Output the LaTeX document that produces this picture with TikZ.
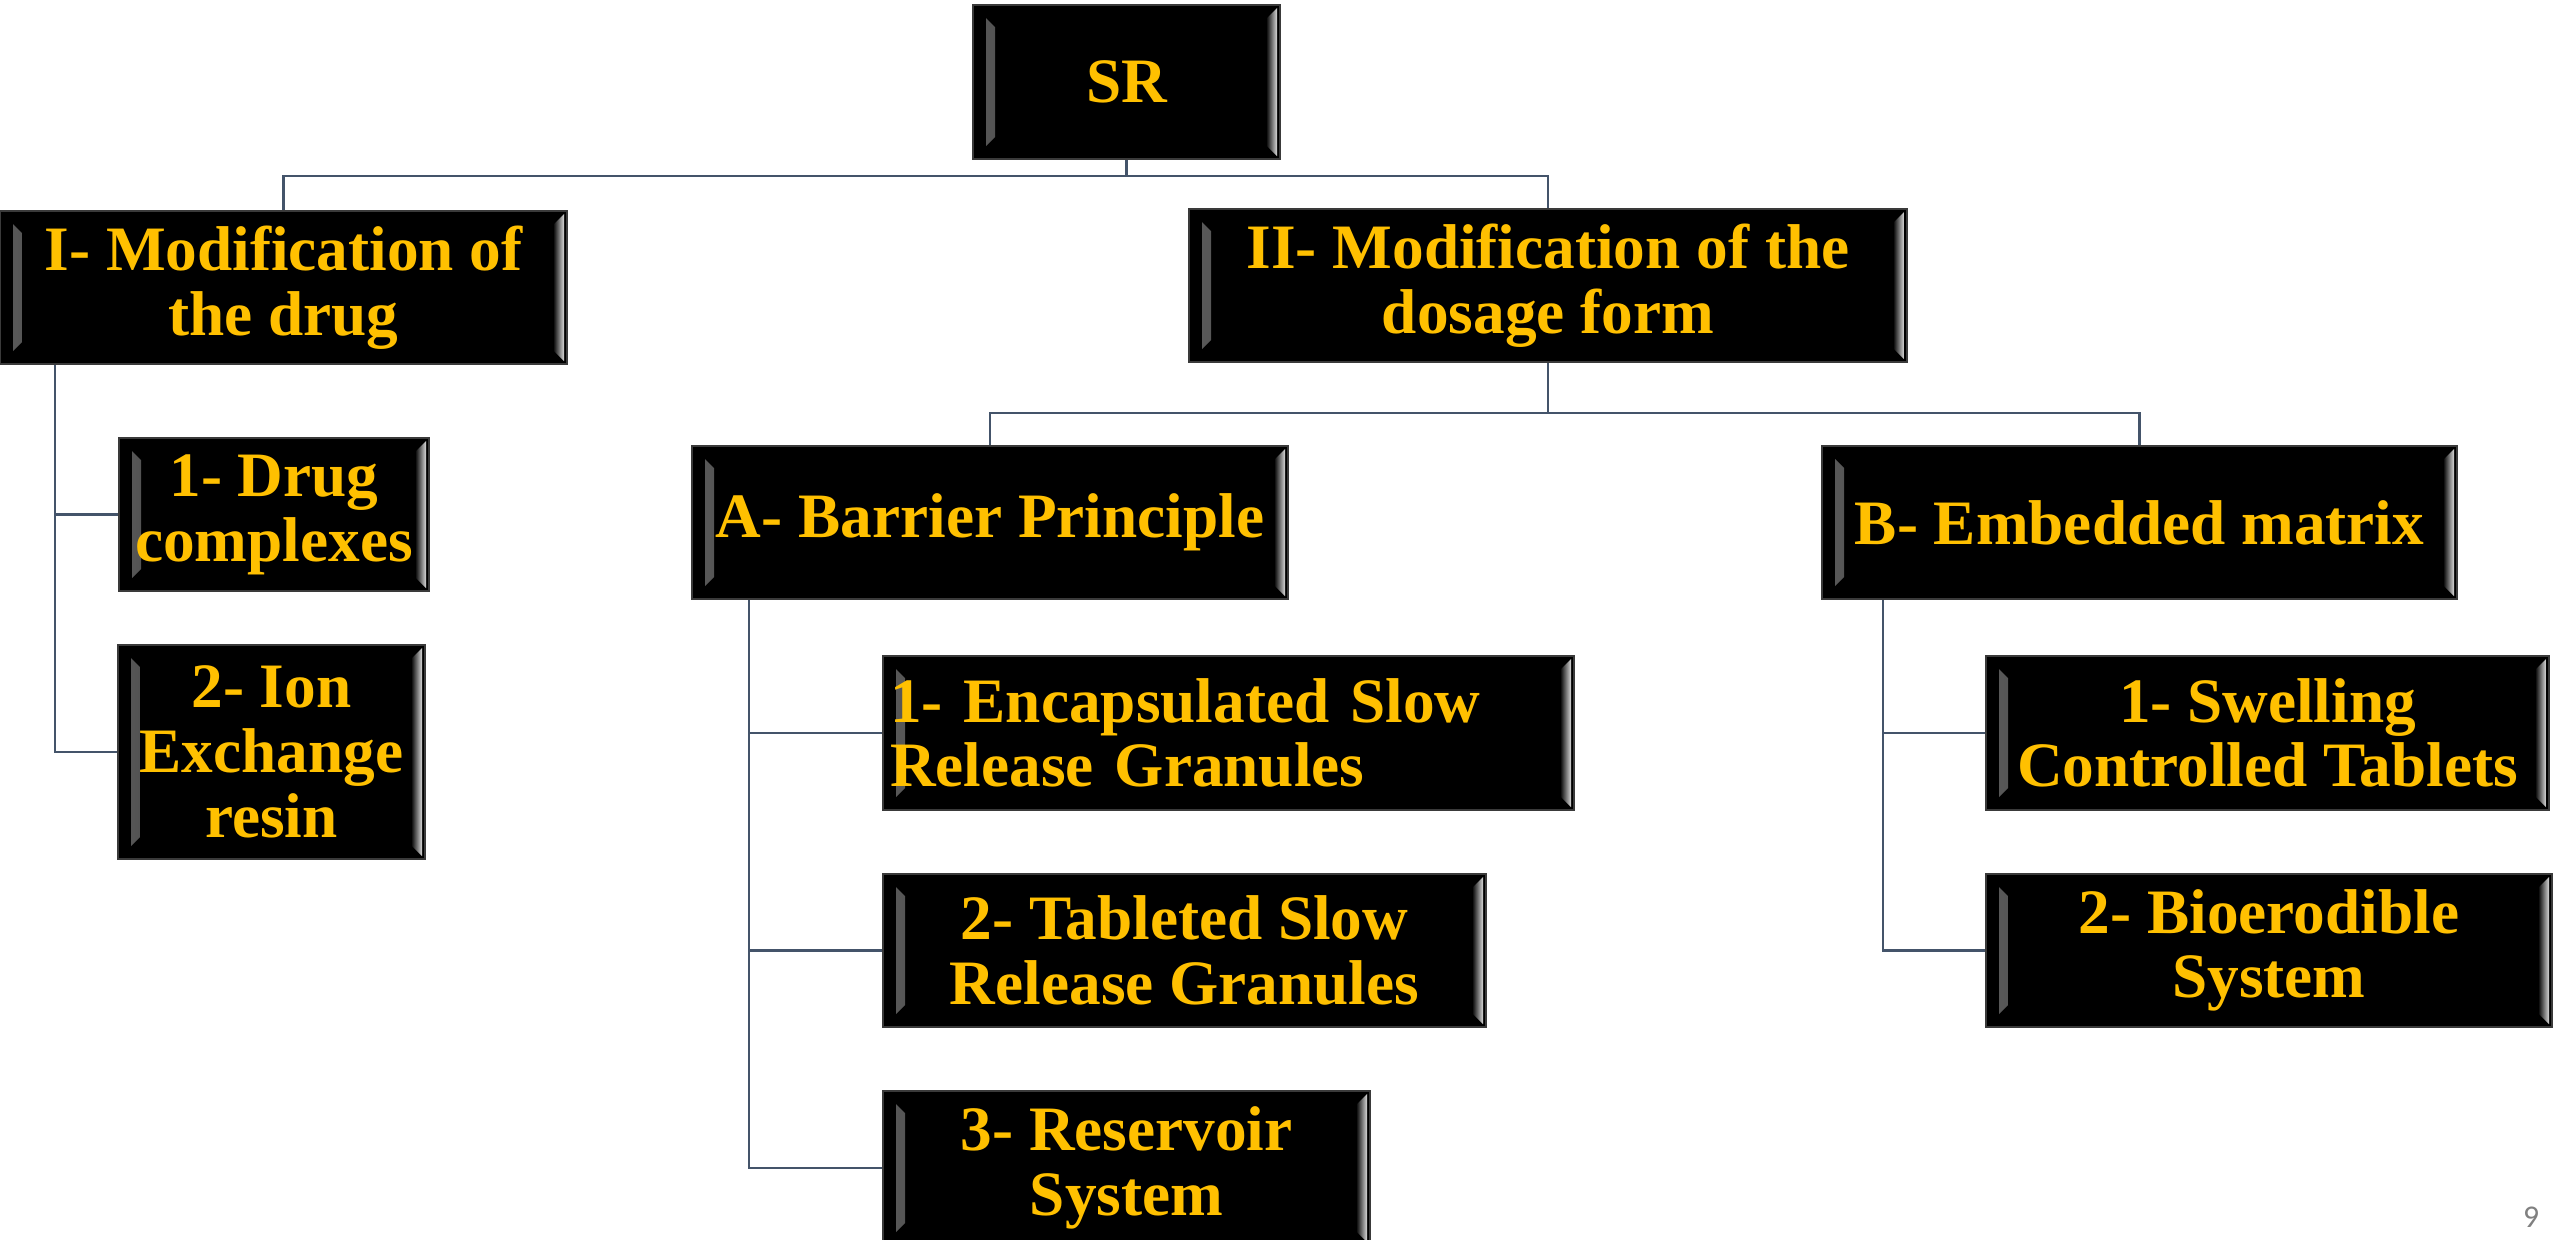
\documentclass[tikz,border=0pt]{standalone}
\usepackage{fontspec}
\setmainfont{Liberation Serif}
\newfontfamily\pagefont{Carlito}
\definecolor{gold}{HTML}{FFC000}
\definecolor{linkc}{HTML}{44546A}
\definecolor{edgec}{HTML}{3A3A3A}
\begin{document}
\begin{tikzpicture}[x=0.1mm, y=-0.1mm,
    bevel/.style={path picture={
        \shade[left color=gray!70!black, right color=black]
          ([xshift=1.3mm,yshift=1.3mm]path picture bounding box.south west) --
          ([xshift=2.2mm,yshift=2.2mm]path picture bounding box.south west) --
          ([xshift=2.2mm,yshift=-2.2mm]path picture bounding box.north west) --
          ([xshift=1.3mm,yshift=-1.3mm]path picture bounding box.north west) -- cycle;
        \shade[left color=black, right color=gray!30]
          ([xshift=-0.3mm,yshift=0.3mm]path picture bounding box.south east) --
          ([xshift=-1.4mm,yshift=1.4mm]path picture bounding box.south east) --
          ([xshift=-1.4mm,yshift=-1.4mm]path picture bounding box.north east) --
          ([xshift=-0.3mm,yshift=-0.3mm]path picture bounding box.north east) -- cycle;
      }},
    box/.style={draw=edgec, line width=0.6pt, fill=black, text=gold, inner sep=0pt,
      align=center, font=\fontsize{18}{18.4}\selectfont\bfseries, bevel},
    link/.style={draw=linkc, line width=0.8pt}]
  \useasboundingbox[fill=white] (0,0) rectangle (2560,1239);

  % boxes
  \node[box, minimum width=30.7mm, minimum height=15.4mm] (sr) at (1126.5,82) {SR};
  \node[box, minimum width=56.7mm, minimum height=15.3mm] (mdrug) at (283.5,287.5) {I- Modification of\\the drug};
  \node[box, minimum width=71.8mm, minimum height=15.3mm] (mform) at (1548,285.5) {II- Modification of the\\dosage form};
  \node[box, minimum width=31mm, minimum height=15.3mm] (cplx) at (274,514.5) {1- Drug\\complexes};
  \node[box, minimum width=30.7mm, minimum height=21.4mm] (resin) at (271.5,752) {2- Ion\\Exchange\\resin};
  \node[box, minimum width=59.6mm, minimum height=15.3mm] (barrier) at (990,522.5) {A- Barrier Principle};
  \node[box, minimum width=63.5mm, minimum height=15.3mm] (matrix) at (2139.5,522.5) {B- Embedded matrix};
  \node[box, text width=67.7mm, inner xsep=0.7mm, align=left, minimum height=15.4mm] (encap) at (1228.5,733) {1- Encapsulated Slow\\Release Granules};
  \node[box, minimum width=60.3mm, minimum height=15.3mm] (tablet) at (1184.5,950.5) {2- Tableted Slow\\Release Granules};
  \node[box, minimum width=48.7mm, minimum height=15.4mm] (reserv) at (1126.5,1168) {3- Reservoir\\System};
  \node[box, minimum width=56.3mm, minimum height=15.4mm] (swell) at (2267.5,733) {1- Swelling\\Controlled Tablets};
  \node[box, minimum width=56.6mm, minimum height=15.3mm] (bioer) at (2269,950.5) {2- Bioerodible\\System};

  % top levels
  \coordinate (srfork) at (1126.5,176);
  \draw[link] (sr.south) -- (srfork) -| (mdrug.north);
  \draw[link] (srfork) -| (mform.north);
  \coordinate (formfork) at (1548,413);
  \draw[link] (mform.south) -- (formfork) -| (barrier.north);
  \draw[link] (formfork) -| (matrix.north);

  % side trunks
  \coordinate (drugtrunk) at ([xshift=5.6mm]mdrug.south west);
  \coordinate (bartrunk) at ([xshift=5.8mm]barrier.south west);
  \coordinate (mattrunk) at ([xshift=6.2mm]matrix.south west);
  \foreach \n in {cplx,resin} \draw[link] (drugtrunk) |- (\n.west);
  \foreach \n in {encap,tablet,reserv} \draw[link] (bartrunk) |- (\n.west);
  \foreach \n in {swell,bioer} \draw[link] (mattrunk) |- (\n.west);

  \node[text=gray, font=\pagefont\fontsize{9}{10}\selectfont] (pnum) at (2531,1217) {9};
\end{tikzpicture}
\end{document}
